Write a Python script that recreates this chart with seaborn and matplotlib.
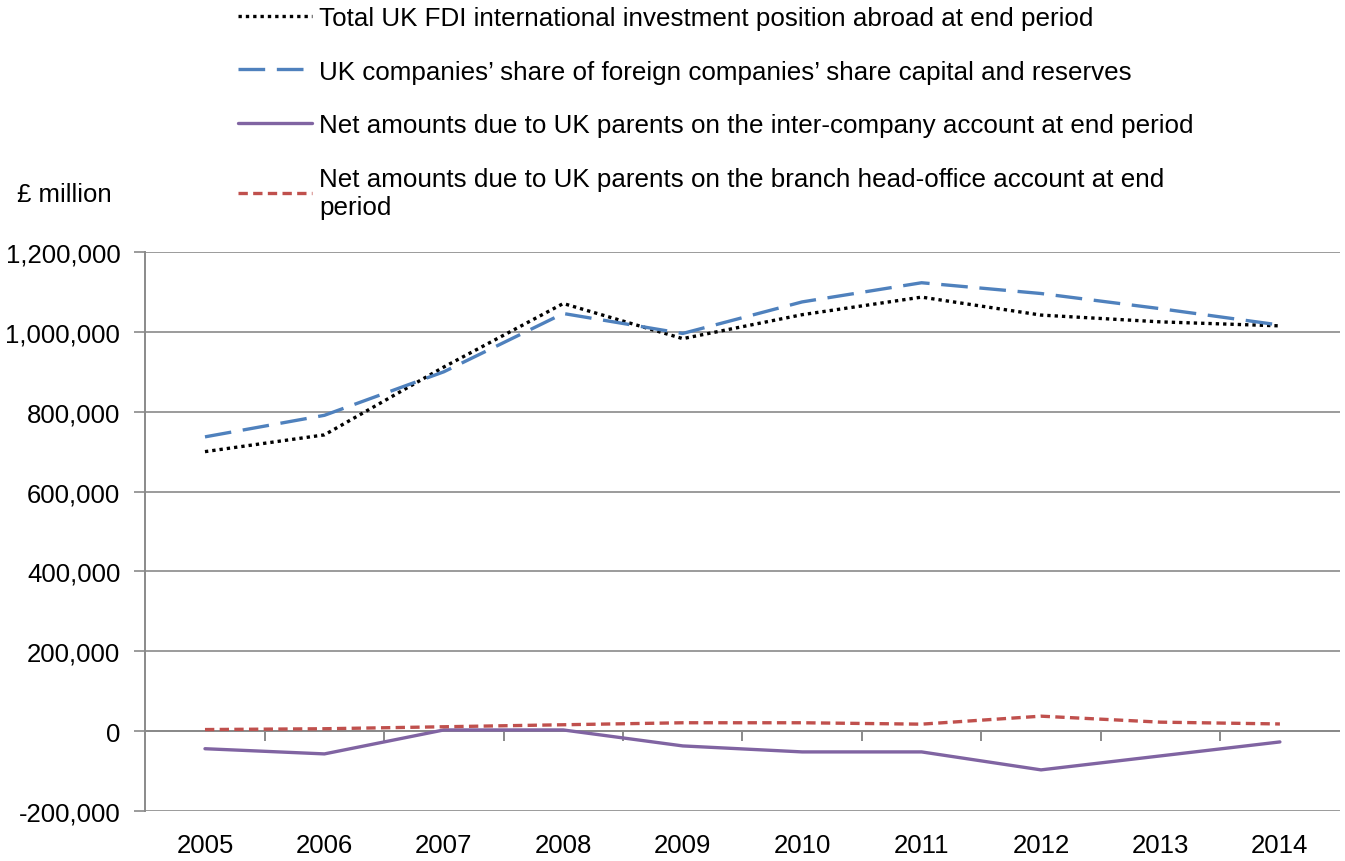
import pandas as pd
import matplotlib.pyplot as plt
import matplotlib.ticker as mticker
import seaborn as sns

years = [2005, 2006, 2007, 2008, 2009, 2010, 2011, 2012, 2013, 2014]
total_fdi = [700000, 742000, 912000, 1071000, 983000, 1043000, 1087000, 1042000, 1025000, 1015000]
share_capital = [737000, 791000, 900000, 1046000, 996000, 1075000, 1123000, 1096000, 1058000, 1017000]
inter_company = [-44000, -57000, 3000, 3000, -37000, -52000, -52000, -97000, -62000, -27000]
branch_office = [4000, 6000, 11000, 16000, 21000, 21000, 17500, 37500, 22500, 18000]

labels = [
    "Total UK FDI international investment position abroad at end period",
    "UK companies\u2019 share of foreign companies\u2019 share capital and reserves",
    "Net amounts due to UK parents on the inter-company account at end period",
    "Net amounts due to UK parents on the branch head-office account at end\nperiod",
]
series = [total_fdi, share_capital, inter_company, branch_office]

df = pd.concat(
    [pd.DataFrame({"Year": years, "Value": vals, "Series": lab}) for lab, vals in zip(labels, series)],
    ignore_index=True,
)

sns.set_style("white")
plt.rcParams["font.family"] = ["Liberation Sans", "DejaVu Sans"]
plt.rcParams["text.color"] = "black"
plt.rcParams["xtick.labelcolor"] = "black"
plt.rcParams["ytick.labelcolor"] = "black"

palette = dict(zip(labels, ["#000000", "#4F81BD", "#8064A2", "#C0504D"]))
dashes = dict(zip(labels, [(1, 1.2), (8, 3.5), "", (2.8, 1.6)]))

fig = plt.figure(figsize=(13.45, 8.62), dpi=100)
ax = fig.add_axes([0.108, 0.058, 0.888, 0.6485])

sns.lineplot(data=df, x="Year", y="Value", hue="Series", style="Series",
             palette=palette, dashes=dashes, linewidth=2.4, ax=ax, legend=False)

ax.set_xlim(2004.5, 2014.5)
ax.set_ylim(-200000, 1200000)
ax.yaxis.set_major_locator(mticker.MultipleLocator(200000))
ax.yaxis.set_major_formatter(mticker.FuncFormatter(lambda v, p: f"{int(v):,}"))
ax.grid(axis="y", color="#8a8a8a", linewidth=1.2)
ax.set_axisbelow(True)

# horizontal axis drawn at zero with category boundary ticks
ax.axhline(0, color="#8a8a8a", linewidth=1.4, zorder=1)
ax.vlines([y + 0.5 for y in years[:-1]], -25000, 0, color="#8a8a8a", linewidth=1.4, zorder=1)

ax.set_xticks(years)
ax.set_xticklabels([str(y) for y in years])
ax.tick_params(axis="x", length=0, labelsize=18.5, pad=16)
ax.tick_params(axis="y", length=8, width=1.2, color="#8a8a8a", labelsize=18.5, pad=10, direction="out")
ax.yaxis.set_ticks_position("left")

for side in ["top", "right", "bottom"]:
    ax.spines[side].set_visible(False)
ax.spines["left"].set_color("#8a8a8a")
ax.spines["left"].set_linewidth(1.4)

ax.set_xlabel("")
ax.set_ylabel("")
fig.text(0.013, 0.774, "\u00a3 million", fontsize=18.5, ha="left", va="center")

handles = [
    plt.Line2D([], [], color=palette[lab], linewidth=2.4,
               linestyle=(0, dashes[lab]) if dashes[lab] else "-")
    for lab in labels
]
fig.legend(handles, labels, loc="upper left", bbox_to_anchor=(0.1695, 1.004),
           frameon=False, fontsize=18.7, handlelength=2.85, handletextpad=0.25,
           labelspacing=1.14, borderaxespad=0.0)

plt.savefig("out.png", dpi=100)
